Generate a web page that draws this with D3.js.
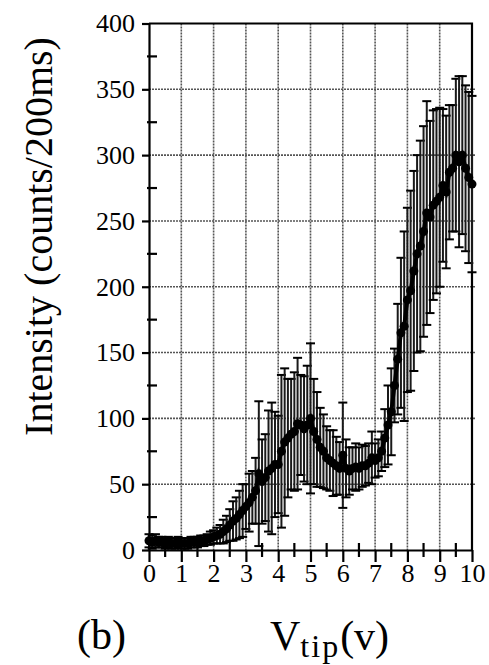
<!DOCTYPE html>
<meta charset="utf-8">
<style>
body { margin: 0; background: #fff; }
.grid line { stroke: #555; stroke-width: 1.6px; stroke-dasharray: 2,1; }
.frame { stroke: #000; stroke-width: 2.2px; fill: none; }
.axis path, .axis line { stroke: #000; stroke-width: 2.2px; }
.axis text { font-size: 26px; }
.err { stroke: #1a1a1a; stroke-width: 2px; }
.cap { stroke: #000; stroke-width: 2px; }
.curve { fill: none; stroke: #000; stroke-width: 4px; }
.dot { fill: #000; }
</style>
<svg width="489" height="665"></svg>
<script src="https://d3js.org/d3.v7.min.js"></script>
<script>

// tip voltage (V)
var volts = [0.0, 0.1, 0.2, 0.3, 0.4, 0.5, 0.6, 0.7, 0.8, 0.9,
  1.0, 1.1, 1.2, 1.3, 1.4, 1.5, 1.6, 1.7, 1.8, 1.9,
  2.0, 2.1, 2.2, 2.3, 2.4, 2.5, 2.6, 2.7, 2.8, 2.9,
  3.0, 3.1, 3.2, 3.3, 3.4, 3.5, 3.6, 3.7, 3.8, 3.9,
  4.0, 4.1, 4.2, 4.3, 4.4, 4.5, 4.6, 4.7, 4.8, 4.9,
  5.0, 5.1, 5.2, 5.3, 5.4, 5.5, 5.6, 5.7, 5.8, 5.9,
  6.0, 6.1, 6.2, 6.3, 6.4, 6.5, 6.6, 6.7, 6.8, 6.9,
  7.0, 7.1, 7.2, 7.3, 7.4, 7.5, 7.6, 7.7, 7.8, 7.9,
  8.0, 8.1, 8.2, 8.3, 8.4, 8.5, 8.6, 8.7, 8.8, 8.9,
  9.0, 9.1, 9.2, 9.3, 9.4, 9.5, 9.6, 9.7, 9.8, 9.9, 10.0];

// mean intensity (counts/200ms)
var intensity = [7, 6, 7, 6, 6, 5, 6, 5, 5, 6,
  5, 5, 5, 6, 6, 6, 7, 7, 8, 9,
  10, 11, 12, 14, 16, 19, 22, 24, 27, 30,
  33, 36, 40, 45, 58, 52, 55, 60, 62, 65,
  65, 75, 82, 85, 88, 90, 96, 95, 92, 95,
  100, 90, 84, 78, 75, 70, 68, 66, 64, 62,
  72, 62, 60, 62, 63, 62, 64, 64, 66, 70,
  68, 70, 75, 85, 95, 105, 125, 145, 165, 170,
  190, 197, 212, 225, 231, 242, 256, 253, 262, 265,
  268, 277, 272, 287, 290, 300, 295, 300, 290, 283, 278];

// error bar half-heights
var errBar = [5, 5, 5, 4, 4, 4, 4, 4, 4, 4,
  4, 4, 4, 4, 4, 4, 4, 4, 4, 5,
  5, 6, 7, 9, 10, 12, 15, 16, 18, 20,
  17, 22, 20, 25, 55, 32, 33, 46, 50, 40,
  37, 58, 56, 45, 42, 45, 50, 38, 40, 45,
  57, 40, 36, 30, 28, 24, 23, 25, 22, 20,
  40, 22, 18, 16, 18, 16, 16, 15, 15, 20,
  13, 14, 15, 22, 30, 33, 28, 42, 57, 72,
  70, 76, 76, 75, 80, 80, 85, 73, 72, 70,
  68, 58, 58, 51, 48, 58, 65, 60, 63, 65, 67];

var xTicks = [0, 1, 2, 3, 4, 5, 6, 7, 8, 9, 10];
var xMinor = [0.5, 1.5, 2.5, 3.5, 4.5, 5.5, 6.5, 7.5, 8.5, 9.5];
var yTicks = [0, 50, 100, 150, 200, 250, 300, 350, 400];
var yMinor = [25, 75, 125, 175, 225, 275, 325, 375];

var serif = "Liberation Serif, Times New Roman, serif";

var svg = d3.select("svg"),
    margin = {top: 23.5, right: 17, bottom: 115, left: 149},
    width = +svg.attr("width") - margin.left - margin.right,
    height = +svg.attr("height") - margin.top - margin.bottom,
    g = svg.append("g").attr("transform", "translate(" + margin.left + "," + margin.top + ")");

var x = d3.scaleLinear().domain([0, 10]).range([0, width]);
var y = d3.scaleLinear().domain([0, 400]).range([height, 0]);

var points = volts.map(function(v, i) { return {v: v, m: intensity[i], e: errBar[i]}; });

// grid
var grid = g.append("g").attr("class", "grid");
grid.selectAll("line.h").data(yTicks.slice(1, -1)).enter().append("line").attr("class", "h")
    .attr("x1", 0).attr("x2", width + 3)
    .attr("y1", function(d) { return y(d); }).attr("y2", function(d) { return y(d); });
grid.selectAll("line.v").data(xTicks.slice(1, -1)).enter().append("line").attr("class", "v")
    .attr("y1", 0).attr("y2", height)
    .attr("x1", function(d) { return x(d); }).attr("x2", function(d) { return x(d); });

// top + right border
g.append("path").attr("class", "frame")
  .attr("d", "M0," + y(400) + "H" + x(10) + "V" + y(0));

// error bars
var bars = g.append("g").selectAll("g").data(points).enter().append("g");
bars.append("line").attr("class", "err")
  .attr("x1", function(d) { return x(d.v); }).attr("x2", function(d) { return x(d.v); })
  .attr("y1", function(d) { return y(d.m + d.e); }).attr("y2", function(d) { return y(Math.max(0, d.m - d.e)); });
bars.selectAll("line.cap").data(function(d) { return [d.m + d.e, Math.max(0, d.m - d.e)].map(function(val) { return {v: d.v, val: val}; }); })
  .enter().append("line").attr("class", "cap")
  .attr("x1", function(d) { return x(d.v) - 4.5; }).attr("x2", function(d) { return x(d.v) + 4.5; })
  .attr("y1", function(d) { return y(d.val); }).attr("y2", function(d) { return y(d.val); });

// mean curve
g.append("path").datum(points).attr("class", "curve")
  .attr("d", d3.line().x(function(d) { return x(d.v); }).y(function(d) { return y(d.m); }));
g.append("g").selectAll("circle").data(points).enter().append("circle")
  .attr("class", "dot").attr("r", 4.5)
  .attr("cx", function(d) { return x(d.v); }).attr("cy", function(d) { return y(d.m); });

// axes
g.append("g").attr("class", "axis")
  .attr("transform", "translate(0," + height + ")")
  .call(d3.axisBottom(x).tickValues(xTicks).tickSizeInner(12).tickSizeOuter(0).tickPadding(2))
  .attr("font-family", serif);
g.append("g").attr("class", "axis")
  .call(d3.axisLeft(y).tickValues(yTicks).tickSizeInner(7).tickSizeOuter(0).tickPadding(7))
  .attr("font-family", serif);

// minor ticks, crossing the axes
g.append("g").attr("class", "axis").selectAll("line").data(xMinor).enter().append("line")
  .attr("x1", function(d) { return x(d); }).attr("x2", function(d) { return x(d); })
  .attr("y1", height - 7).attr("y2", height + 7);
g.append("g").attr("class", "axis").selectAll("line").data(yMinor).enter().append("line")
  .attr("y1", function(d) { return y(d); }).attr("y2", function(d) { return y(d); })
  .attr("x1", -2).attr("x2", 8);

// labels
svg.append("text")
  .attr("transform", "translate(52," + (margin.top + 213) + ") rotate(-90)")
  .attr("text-anchor", "middle").attr("font-size", 40)
  .text("Intensity (counts/200ms)");

svg.append("text").attr("x", 77).attr("y", 649).attr("font-size", 42).text("(b)");

var xl = svg.append("text").attr("x", 270).attr("y", 650).attr("font-size", 42);
xl.append("tspan").text("V");
xl.append("tspan").attr("dy", 7).attr("font-size", 32).attr("letter-spacing", 2).text("tip");
xl.append("tspan").attr("dy", -7).text("(v)");

svg.selectAll("text").attr("font-family", serif).attr("fill", "#000");

</script>
